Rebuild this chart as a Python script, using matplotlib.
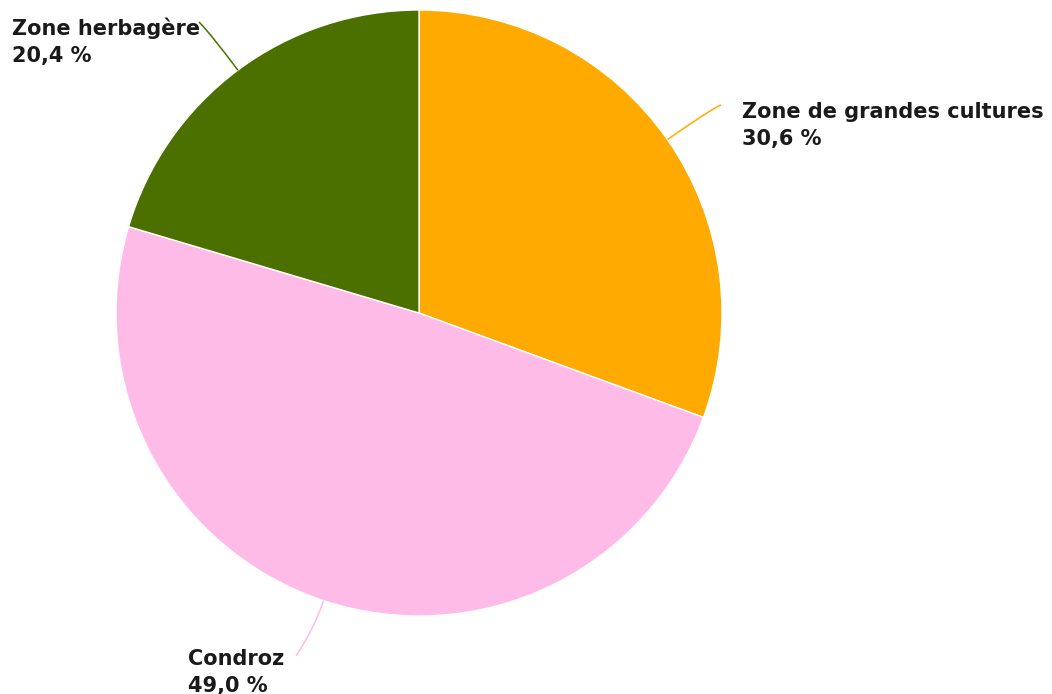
import numpy as np
import matplotlib
matplotlib.use("Agg")
import matplotlib.pyplot as plt
from matplotlib.path import Path
from matplotlib.patches import PathPatch

labels = ["Zone de grandes cultures", "Condroz", "Zone herbagère"]
shares = [30.6, 49.0, 20.4]
colors = ["#FFAA00", "#FFBBE8", "#4B7000"]
pct_text = ["30,6 %", "49,0 %", "20,4 %"]

W, H = 1052, 694
fig = plt.figure(figsize=(W / 100, H / 100), dpi=100)
ax = fig.add_axes([0, 0, 1, 1])

cx, cy, r = 419, H - 313, 303
wedges, _ = ax.pie(shares, colors=colors, startangle=90, counterclock=False,
                   radius=r, center=(cx, cy), frame=True,
                   wedgeprops=dict(edgecolor="white", linewidth=1.0))
ax.set_xlim(0, W)
ax.set_ylim(0, H)
ax.set_aspect("equal")
ax.axis("off")

# label position (left, first baseline) in pixels, connector end points
# and the slope of each connector where it meets its label
text_pos = [(742, 118), (188, 665), (12, 35)]
line_end = [(721, 105), (296, 656), (199, 22)]
end_slope = [0.35, 1.5, 1.0]

for w, col, name, pct, (tx, ty), (ex, ey), m in zip(
        wedges, colors, labels, pct_text, text_pos, line_end, end_slope):
    mid = np.deg2rad((w.theta1 + w.theta2) / 2)
    ux, uy = np.cos(mid), np.sin(mid)
    sx, sy = cx + r * ux, cy + r * uy
    ey = H - ey
    side = 1 if ex > cx else -1
    # end tangent direction (pointing back toward the pie)
    dx, dy = -side, -np.sign(ey - sy) * m
    # intersect radial ray with the end tangent line for the control point
    A = np.array([[ux, -dx], [uy, -dy]])
    t, s = np.linalg.solve(A, np.array([ex - sx, ey - sy]))
    ctrl = (sx + ux * t, sy + uy * t)
    path = Path([(sx, sy), ctrl, (ex, ey)], [Path.MOVETO, Path.CURVE3, Path.CURVE3])
    ax.add_patch(PathPatch(path, facecolor="none", edgecolor=col, linewidth=1.1))
    for k, txt in enumerate((name, pct)):
        ax.text(tx, H - ty - 27 * k, txt, ha="left", va="baseline",
                fontsize=15, fontweight="bold", color="#1a1a1a",
                family="DejaVu Sans")

fig.savefig("out.png", dpi=100)
